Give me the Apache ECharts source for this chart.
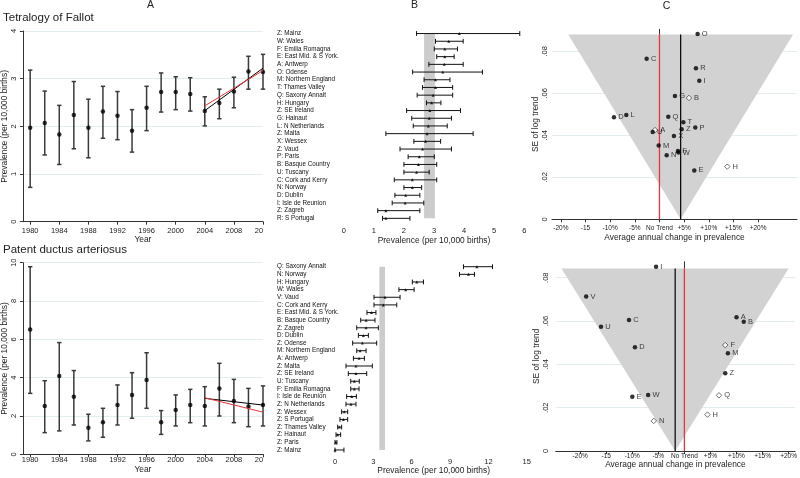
<!DOCTYPE html>
<html><head><meta charset="utf-8">
<script src="https://cdn.jsdelivr.net/npm/echarts@6/dist/echarts.min.js"></script>
<style>html,body{margin:0;padding:0;background:#fff}#c{width:800px;height:478px}</style>
</head><body><div id="c"></div>
<script>
// ---------- Panel A data (prevalence per 10,000 births by year) ----------
const years = [1980,1982,1984,1986,1988,1990,1992,1994,1996,1998,2000,2002,2004,2006,2008,2010,2012];
const yearTicks = [1980,1984,1988,1992,1996,2000,2004,2008,2012];
const tofPrev = [1.97,2.07,1.83,2.24,1.97,2.31,2.22,1.91,2.39,2.72,2.72,2.68,2.32,2.49,2.73,3.15,3.14];
const tofLow  = [0.72,1.40,1.20,1.53,1.34,1.75,1.72,1.46,1.91,2.30,2.35,2.32,2.01,2.16,2.39,2.78,2.78];
const tofHigh = [3.18,2.74,2.44,2.94,2.57,2.84,2.73,2.35,2.84,3.12,3.04,3.02,2.62,2.78,3.03,3.47,3.51];
const pdaPrev = [6.52,2.52,4.09,3.01,1.39,1.67,2.57,3.10,3.88,1.67,2.31,2.57,2.52,3.44,2.78,2.49,2.57];
const pdaLow  = [3.18,1.13,1.22,1.53,0.70,0.89,1.53,1.88,2.40,1.04,1.48,1.65,1.48,2.00,1.65,1.44,1.48];
const pdaHigh = [9.79,3.84,5.83,4.37,2.09,2.40,3.62,4.26,5.30,2.28,3.10,3.39,3.53,4.75,3.91,3.44,3.57];
const trendYears = [2004,2012];
const tofTrendBlack = [2.33,3.22];
const tofTrendRed   = [2.43,3.17];
const pdaTrendBlack = [2.92,2.57];
const pdaTrendRed   = [2.95,2.20];

// ---------- Panel B data (prevalence by registry) ----------
const tofRegions = ['Z: Mainz','W: Wales','F: Emilia Romagna','E: East Mid. & S York.','A: Antwerp','O: Odense','M: Northern England','T: Thames Valley','Q: Saxony Annalt','H: Hungary','Z: SE Ireland','G: Hainaut','L: N Netherlands','Z: Malta','X: Wessex','Z: Vaud','P: Paris','B: Basque Country','U: Tuscany','C: Cork and Kerry','N: Norway','D: Dublin','I: Isle de Reunion','Z: Zagreb','R: S Portugal'];
const tofRegPrev = [3.84,3.49,3.36,3.36,3.34,3.29,3.05,3.05,2.97,2.92,2.86,2.84,2.81,2.77,2.72,2.62,2.51,2.48,2.42,2.28,2.28,2.06,2.04,1.40,1.40];
const tofRegLow  = [2.42,3.05,3.01,3.09,2.83,2.29,2.67,2.62,2.44,2.75,2.09,2.26,2.31,1.40,2.33,1.87,2.14,2.00,2.00,1.68,2.00,1.70,1.61,1.13,1.29];
const tofRegHigh = [5.85,3.97,3.78,3.67,3.97,4.61,3.53,3.62,3.62,3.23,3.88,3.58,3.44,4.30,3.22,3.58,3.01,3.09,2.84,3.09,2.59,2.53,2.66,2.53,2.20];
const tofPooled = [2.67,3.03];
const tofPrevTicks = [0,1,2,3,4,5,6];

const pdaRegions = ['Q: Saxony Annalt','N: Norway','H: Hungary','W: Wales','V: Vaud','C: Cork and Kerry','E: East Mid. & S York.','B: Basque Country','Z: Zagreb','D: Dublin','Z: Odense','M: Northern England','A: Antwerp','Z: Malta','Z: SE Ireland','U: Tuscany','F: Emilia Romagna','I: Isle de Reunion','Z: N Netherlands','Z: Wessex','Z: S Portugal','Z: Thames Valley','Z: Hainaut','Z: Paris','Z: Mainz'];
const pdaRegPrev = [11.10,10.44,6.40,5.53,3.91,3.78,2.85,2.43,2.43,2.22,2.14,1.96,1.88,1.64,1.64,1.51,1.51,1.31,1.25,0.73,0.65,0.34,0.21,0.05,0.00];
const pdaRegLow  = [10.05,9.74,6.05,5.00,3.05,3.05,2.50,2.01,1.70,1.83,1.38,1.70,1.44,0.86,1.04,1.23,1.23,0.91,0.86,0.52,0.39,0.21,0.08,0.00,0.00];
const pdaRegHigh = [12.32,10.91,6.92,6.19,5.09,4.83,3.20,3.13,3.39,2.61,3.26,2.43,2.30,2.92,2.48,1.90,1.88,1.67,1.64,0.99,0.99,0.52,0.44,0.15,0.70];
const pdaPooled = [3.47,3.91];
const pdaPrevTicks = [0,3,6,9,12,15];

// ---------- Panel C data (funnel plot of annual change vs SE) ----------
const changeTicks = [-20,-15,-10,-5,0,5,10,15,20];
const changeTickLabels = ['-20%','-15','-10%','-5%','No Trend','+5%','+10%','+15%','+20%'];
const seTicks = [0,0.02,0.04,0.06,0.08];

const tofLetters = ['O','C','R','I','G','B','D','L','Q','T','P','Z','A','U','X','M','F','W','N','E','H'];
const tofChange  = [7.74,-2.6,7.4,8.08,3.14,5.98,-9.23,-6.73,1.79,4.84,7.27,4.5,-0.91,-1.38,2.94,-0.16,3.75,3.85,1.46,7.06,13.75];
const tofSE      = [0.0883,0.0765,0.0719,0.066,0.0587,0.0578,0.0486,0.0497,0.0489,0.0462,0.0437,0.0429,0.0425,0.0416,0.0397,0.0351,0.0325,0.0318,0.0305,0.0233,0.0251];
const tofHollow  = ['B','A','H'];
const tofFunnelX  = [-18.5,4.3,27.1];
const tofFunnelSE = [0.088,0,0.088];
const tofOverall = 4.3;

const pdaLetters = ['I','V','C','U','D','W','E','N','A','B','F','M','Z','Q','H'];
const pdaChange  = [-5.44,-18.85,-10.63,-16.0,-9.49,-6.96,-10.0,-5.88,10.0,11.39,7.84,8.35,7.84,6.64,4.43];
const pdaSE      = [0.0851,0.0713,0.0605,0.0574,0.0479,0.0259,0.0251,0.0139,0.0617,0.0597,0.0489,0.0451,0.0359,0.0257,0.0168];
const pdaHollow  = ['N','F','Q','H'];
const pdaFunnelX  = [-23.6,-1.77,20.0];
const pdaFunnelSE = [0.0843,0,0.0843];
const pdaOverall = -1.77;

// ---------- styling ----------
const FONT = '"Liberation Sans", Arial, sans-serif';
const TXT = '#222';
const AX = '#333';
const GRIDC = '#e3ecef';
const RED = '#e8353a';

const chart = echarts.init(document.getElementById('c'));

function lbl(size, extra){ return Object.assign({color:TXT, fontFamily:FONT, fontSize:size}, extra||{}); }

function vErr(params, api){
  const x = api.value(0), lo = api.value(1), hi = api.value(2);
  const a = api.coord([x, lo]), b = api.coord([x, hi]);
  const w = 2.2, st = {stroke:'#3a3a3a', lineWidth:1.5};
  return {type:'group', children:[
    {type:'line', shape:{x1:a[0],y1:a[1],x2:b[0],y2:b[1]}, style:st},
    {type:'line', shape:{x1:a[0]-w,y1:a[1],x2:a[0]+w,y2:a[1]}, style:st},
    {type:'line', shape:{x1:b[0]-w,y1:b[1],x2:b[0]+w,y2:b[1]}, style:st}
  ]};
}
function hErr(params, api){
  const lo = api.value(0), hi = api.value(1), c = api.value(2);
  const a = api.coord([lo, c]), b = api.coord([hi, c]);
  const h = 2.4, st = {stroke:'#111', lineWidth:1};
  return {type:'group', children:[
    {type:'line', shape:{x1:a[0],y1:a[1],x2:b[0],y2:b[1]}, style:st},
    {type:'line', shape:{x1:a[0],y1:a[1]-h,x2:a[0],y2:a[1]+h}, style:st},
    {type:'line', shape:{x1:b[0],y1:b[1]-h,x2:b[0],y2:b[1]+h}, style:st}
  ]};
}
function bandRender(n){
  return function(params, api){
    const lo = api.value(0), hi = api.value(1);
    const a = api.coord([lo, 0]), b = api.coord([hi, n-1]);
    return {type:'rect', shape:{x:a[0], y:a[1], width:b[0]-a[0], height:b[1]-a[1]}, style:{fill:'#cccccc'}};
  };
}
function funnelRender(fx, fy){
  return function(params, api){
    const pts = fx.map((x,i)=>api.coord([x, fy[i]]));
    return {type:'polygon', shape:{points:pts}, style:{fill:'#d2d2d2'}};
  };
}

function yearAxis(grid, margin, gap){
  return {type:'value', gridIndex:grid, min:1979, max:2012, name:'Year', nameLocation:'middle', nameGap:gap,
    nameTextStyle:lbl(8.4),
    axisLine:{lineStyle:{color:AX}}, axisTick:{customValues:yearTicks, length:3, lineStyle:{color:AX}},
    axisLabel:lbl(7.5,{customValues:yearTicks, margin:margin, formatter:v=> v===2012 ? '{c|20}' : String(v), rich:{c:{fontSize:7.5, fontFamily:FONT, color:TXT, padding:[0,8,0,0]}}}),
    splitLine:{show:false}};
}
function prevYAxis(grid, max, interval){
  return {type:'value', gridIndex:grid, min:0, max:max, interval:interval,
    name:'Prevalence (per 10,000 births)', nameLocation:'middle', nameGap:11.5, nameTextStyle:lbl(8.4),
    axisLine:{show:true, lineStyle:{color:AX}}, axisTick:{show:true, length:3, lineStyle:{color:AX}},
    axisLabel:lbl(7.5,{rotate:90, margin:5}),
    splitLine:{show:true, lineStyle:{color:GRIDC, width:1}}};
}
function regionXAxis(grid, min, max, ticks, margin, gap){
  return {type:'value', gridIndex:grid, min:min, max:max, name:'Prevalence (per 10,000 births)', nameLocation:'middle', nameGap:gap,
    nameTextStyle:lbl(8.4, {padding:[0,0,0,71]}),
    axisLine:{lineStyle:{color:AX}}, axisTick:{customValues:ticks, length:3, lineStyle:{color:AX}},
    axisLabel:lbl(7.5,{customValues:ticks, margin:margin}), splitLine:{show:false}};
}
function regionYAxis(grid, cats){
  return {type:'category', gridIndex:grid, data:cats, inverse:true,
    axisLine:{show:false}, axisTick:{show:false},
    axisLabel:lbl(6.3,{inside:true, margin:10, color:'#111', interval:0}), splitLine:{show:false}};
}
function changeXAxis(grid, min, max, margin, gap){
  return {type:'value', gridIndex:grid, min:min, max:max, name:'Average annual change in prevalence', nameLocation:'middle', nameGap:gap,
    nameTextStyle:lbl(8.4),
    axisLine:{lineStyle:{color:AX}}, axisTick:{customValues:changeTicks, length:3, lineStyle:{color:AX}},
    axisLabel:lbl(6.5,{customValues:changeTicks, margin:margin, formatter:v=>changeTickLabels[changeTicks.indexOf(v)]}),
    splitLine:{show:false}};
}
function seYAxis(grid, max, margin, gap){
  return {type:'value', gridIndex:grid, min:0, max:max, name:'SE of log trend', nameLocation:'middle', nameGap:gap,
    nameTextStyle:lbl(8.4),
    axisLine:{show:true, lineStyle:{color:AX}}, axisTick:{show:true, customValues:seTicks, length:3, lineStyle:{color:AX}},
    axisLabel:lbl(7.5,{rotate:90, margin:margin, customValues:seTicks, formatter:v=> v===0 ? '0' : v.toFixed(2).replace(/^0/,'')}),
    splitLine:{show:true, lineStyle:{color:GRIDC, width:1}}};
}

function timeSeries(xi, prev, low, high, black, red){
  return [
    {type:'custom', xAxisIndex:xi, yAxisIndex:xi, renderItem:vErr, encode:{x:0, y:[1,2]}, z:2,
      data: years.map((y,i)=>[y, low[i], high[i]])},
    {type:'scatter', xAxisIndex:xi, yAxisIndex:xi, symbol:'circle', symbolSize:4.5, itemStyle:{color:'#000'}, z:3,
      data: years.map((y,i)=>[y, prev[i]])},
    {type:'line', xAxisIndex:xi, yAxisIndex:xi, symbol:'none', lineStyle:{color:'#000', width:1}, z:4,
      data: trendYears.map((y,i)=>[y, black[i]])},
    {type:'line', xAxisIndex:xi, yAxisIndex:xi, symbol:'none', lineStyle:{color:RED, width:1}, z:5,
      data: trendYears.map((y,i)=>[y, red[i]])}
  ];
}
function regionSeries(xi, cats, prev, low, high, pooled){
  return [
    {type:'custom', xAxisIndex:xi, yAxisIndex:xi, renderItem:bandRender(cats.length), encode:{x:[0,1]}, z:1,
      data:[[pooled[0], pooled[1]]]},
    {type:'custom', xAxisIndex:xi, yAxisIndex:xi, renderItem:hErr, encode:{x:[0,1], y:2}, z:2,
      data: cats.map((c,i)=>[low[i], high[i], i])},
    {type:'scatter', xAxisIndex:xi, yAxisIndex:xi, symbol:'triangle', symbolSize:3, itemStyle:{color:'#000'}, z:3,
      data: cats.map((c,i)=>[prev[i], i])}
  ];
}
function funnelSeries(xi, fx, fy, overall, letters, change, se, hollow){
  const top = fy[0];
  return [
    {type:'custom', xAxisIndex:xi, yAxisIndex:xi, renderItem:funnelRender(fx, fy), encode:{x:0, y:1}, z:1, silent:true,
      data:[[fx[1], fy[1]]]},
    {type:'line', xAxisIndex:xi, yAxisIndex:xi, symbol:'none', lineStyle:{color:RED, width:1.3}, z:2,
      data:[[0,0],[0,top]]},
    {type:'line', xAxisIndex:xi, yAxisIndex:xi, symbol:'none', lineStyle:{color:'#000', width:1.2}, z:2,
      data:[[overall,0],[overall,top]]},
    {type:'scatter', xAxisIndex:xi, yAxisIndex:xi, z:4,
      label:{show:true, position:'right', distance:2, formatter:p=>p.data.name, color:'#111', fontFamily:FONT, fontSize:7.5},
      data: letters.map((L,i)=>{
        const h = hollow.indexOf(L) >= 0;
        return {name:L, value:[change[i], se[i]], symbol: h ? 'diamond' : 'circle', symbolSize: h ? 5.5 : 4.5,
          itemStyle: h ? {color:'#fff', borderColor:'#222', borderWidth:0.8} : {color:'#000'}};
      })}
  ];
}

const option = {
  animation:false,
  backgroundColor:'#fff',
  grid:[
    {left:21, top:31, width:242, height:190.7},
    {left:267, top:29.7, width:263, height:192.5},
    {left:552, top:29.3, width:245, height:190},
    {left:21, top:262.7, width:242, height:191.6},
    {left:267, top:262.9, width:262.3, height:190.9},
    {left:555.7, top:261.7, width:242.3, height:189.3}
  ],
  xAxis:[
    yearAxis(0, 5, 14),
    regionXAxis(1, -2.55, 6.19, tofPrevTicks, 5, 14),
    changeXAxis(2, -21.8, 27.9, 5, 14),
    yearAxis(3, 2, 8),
    regionXAxis(4, -5.32, 15.2, pdaPrevTicks, 4, 11),
    changeXAxis(5, -24.7, 21.25, 2, 8)
  ],
  yAxis:[
    prevYAxis(0, 4, 1),
    regionYAxis(1, tofRegions),
    seYAxis(2, 0.0905, 3.5, 11),
    prevYAxis(3, 10, 2),
    regionYAxis(4, pdaRegions),
    seYAxis(5, 0.0874, 6, 13)
  ],
  graphic:[
    {type:'text', x:150.5, y:5.5, style:{text:'A', fill:TXT, font:'10.5px '+FONT, align:'center', verticalAlign:'middle'}},
    {type:'text', x:414.5, y:5, style:{text:'B', fill:TXT, font:'10.5px '+FONT, align:'center', verticalAlign:'middle'}},
    {type:'text', x:666.5, y:6, style:{text:'C', fill:TXT, font:'10.5px '+FONT, align:'center', verticalAlign:'middle'}},
    {type:'text', x:3, y:17.5, style:{text:'Tetralogy of Fallot', fill:TXT, font:'11.5px '+FONT, align:'left', verticalAlign:'middle'}},
    {type:'text', x:3, y:250, style:{text:'Patent ductus arteriosus', fill:TXT, font:'11.5px '+FONT, align:'left', verticalAlign:'middle'}}
  ],
  series:[].concat(
    timeSeries(0, tofPrev, tofLow, tofHigh, tofTrendBlack, tofTrendRed),
    regionSeries(1, tofRegions, tofRegPrev, tofRegLow, tofRegHigh, tofPooled),
    funnelSeries(2, tofFunnelX, tofFunnelSE, tofOverall, tofLetters, tofChange, tofSE, tofHollow),
    timeSeries(3, pdaPrev, pdaLow, pdaHigh, pdaTrendBlack, pdaTrendRed),
    regionSeries(4, pdaRegions, pdaRegPrev, pdaRegLow, pdaRegHigh, pdaPooled),
    funnelSeries(5, pdaFunnelX, pdaFunnelSE, pdaOverall, pdaLetters, pdaChange, pdaSE, pdaHollow)
  )
};
chart.setOption(option);
</script></body></html>
